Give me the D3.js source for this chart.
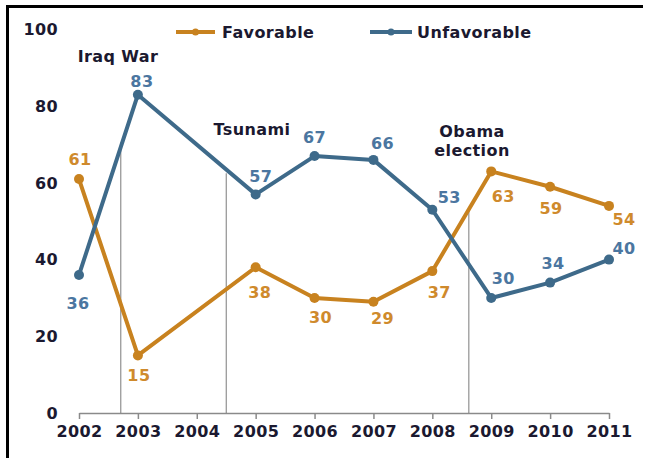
<!DOCTYPE html>
<html>
<head>
<meta charset="utf-8">
<script src="https://cdn.jsdelivr.net/npm/d3@7"></script>
<style>
  body { margin: 0; background: #fff; }
  text { font-family: "DejaVu Sans", Verdana, sans-serif; font-weight: bold; letter-spacing: 0.4px; }
</style>
</head>
<body>
<div id="chart"></div>
<script>
// chart data
const years = [2002, 2003, 2004, 2005, 2006, 2007, 2008, 2009, 2010, 2011];
const favYears = [2002, 2003, 2005, 2006, 2007, 2008, 2009, 2010, 2011];
const favorable = [61, 15, 38, 30, 29, 37, 63, 59, 54];
const unfavorable = [36, 83, 57, 67, 66, 53, 30, 34, 40];
const yTicks = [0, 20, 40, 60, 80, 100];

const events = ['Iraq War', 'Tsunami', 'Obama election'];
const eventYears = [2002.71, 2004.5, 2008.62];
const eventTops = [70.5, 62.5, 53];

// label offsets (px) from each point
const favDx = [1, 1, 4, 6, 9, 7, 12, 1, 15];
const favDy = [-14, 26, 31, 25, 22, 27, 31, 27, 19];
const unfDx = [-1, 4, 5, 0, 9, 17, 12, 3, 15];
const unfDy = [34, -8, -12, -13, -11, -7, -14, -14, -6];

const width = 645, height = 458;
const orange = '#c8821f', blue = '#3e6a8a';
const orangeText = '#cf8a2c', blueText = '#4b76a0';
const dark = '#1b1930';

const svg = d3.select('#chart').append('svg')
    .attr('width', width)
    .attr('height', height);

// frame (top and left edges)
svg.append('path')
    .attr('d', `M7.5,${height} V6.5 H643`)
    .attr('fill', 'none')
    .attr('stroke', '#000')
    .attr('stroke-width', 3);

const x = d3.scaleLinear().domain([2002, 2011]).range([79, 609]);
const y = d3.scaleLinear().domain([0, 100]).range([413, 29.5]);

// x axis
const xAxis = d3.axisBottom(x)
    .tickValues(years)
    .tickFormat(d3.format('d'))
    .tickSize(6)
    .tickSizeOuter(0)
    .tickPadding(7);

const gx = svg.append('g')
    .attr('transform', `translate(0,${y(0)})`)
    .call(xAxis);
gx.select('.domain').attr('stroke', '#8a8a8a').attr('stroke-width', 1.5);
gx.selectAll('.tick line').attr('stroke', '#8a8a8a').attr('stroke-width', 1.5);
gx.selectAll('.tick text')
    .attr('fill', dark)
    .style('font-size', '16px');

// y axis labels (no line)
const yAxis = d3.axisLeft(y).tickValues(yTicks).tickSize(0).tickPadding(0);
const gy = svg.append('g')
    .attr('transform', 'translate(58,0)')
    .call(yAxis);
gy.select('.domain').remove();
gy.selectAll('.tick text')
    .attr('fill', dark)
    .style('font-size', '16px');

// event markers
events.forEach((name, i) => {
    const ex = x(eventYears[i]);
    svg.append('line')
        .attr('x1', ex).attr('x2', ex)
        .attr('y1', y(0)).attr('y2', y(eventTops[i]))
        .attr('stroke', '#7a7a7a')
        .attr('stroke-width', 1);
});

const evText = [
    { lines: ['Iraq War'], cx: 118, y: 62 },
    { lines: ['Tsunami'], cx: 252, y: 135 },
    { lines: ['Obama', 'election'], cx: 472, y: 137 }
];
evText.forEach((t, i) => {
    const txt = svg.append('text')
        .attr('text-anchor', 'middle')
        .attr('fill', dark)
        .style('font-size', '16px');
    t.lines.forEach((l, j) => {
        txt.append('tspan')
            .attr('x', t.cx)
            .attr('y', t.y + j * 19)
            .text(l);
    });
});

// series
const line = d3.line()
    .x(d => x(d[0]))
    .y(d => y(d[1]));

function drawSeries(xs, vals, color, textColor, dxs, dys) {
    const pts = xs.map((yr, i) => [yr, vals[i]]);
    svg.append('path')
        .datum(pts)
        .attr('fill', 'none')
        .attr('stroke', color)
        .attr('stroke-width', 4)
        .attr('stroke-linejoin', 'round')
        .attr('d', line);
    svg.append('g').selectAll('circle')
        .data(pts)
        .join('circle')
        .attr('cx', d => x(d[0]))
        .attr('cy', d => y(d[1]))
        .attr('r', 5)
        .attr('fill', color);
    svg.append('g').selectAll('text')
        .data(pts)
        .join('text')
        .attr('x', (d, i) => x(d[0]) + dxs[i])
        .attr('y', (d, i) => y(d[1]) + dys[i])
        .attr('text-anchor', 'middle')
        .attr('fill', textColor)
        .style('font-size', '16px')
        .text(d => d[1]);
}

drawSeries(favYears, favorable, orange, orangeText, favDx, favDy);
drawSeries(favYears, unfavorable, blue, blueText, unfDx, unfDy);

// legend
const legend = [
    { name: 'Favorable', color: orange, x1: 176, x2: 215, tx: 222 },
    { name: 'Unfavorable', color: blue, x1: 370, x2: 412, tx: 417 }
];
legend.forEach(l => {
    svg.append('line')
        .attr('x1', l.x1).attr('x2', l.x2)
        .attr('y1', 32).attr('y2', 32)
        .attr('stroke', l.color)
        .attr('stroke-width', 4);
    svg.append('circle')
        .attr('cx', (l.x1 + l.x2) / 2)
        .attr('cy', 32)
        .attr('r', 3.5)
        .attr('fill', l.color);
    svg.append('text')
        .attr('x', l.tx)
        .attr('y', 38)
        .attr('fill', dark)
        .style('font-size', '16px')
        .text(l.name);
});
</script>
</body>
</html>
